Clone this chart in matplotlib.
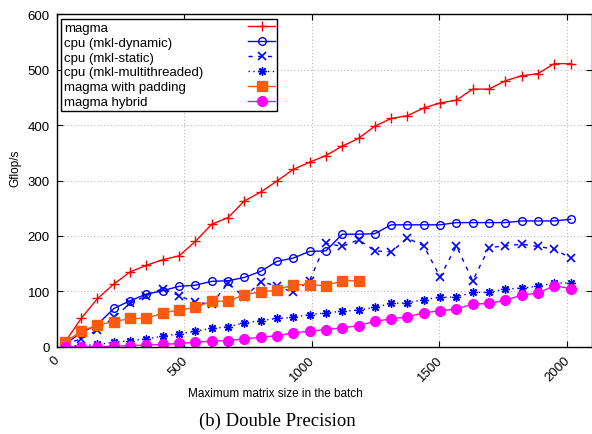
import numpy as np
import matplotlib
matplotlib.use("Agg")
import matplotlib.pyplot as plt
from matplotlib.transforms import ScaledTranslation

plt.rcParams['font.family'] = ['Liberation Sans', 'DejaVu Sans']

# matrix sizes (odd multiples of 32)
sizes = [32 * (2 * k + 1) for k in range(32)]

magma = [8, 51, 87, 113, 135, 147, 157, 164, 190, 221, 233, 263, 279, 299, 320, 333,
         345, 362, 376, 398, 412, 417, 431, 440, 445, 465, 465, 480, 489, 493, 511, 511]
mkl_dynamic = [5, 25, 40, 69, 83, 95, 101, 109, 111, 118, 119, 125, 136, 154, 160, 172,
               173, 203, 203, 204, 220, 220, 220, 220, 224, 224, 224, 224, 227, 227, 227, 230]
mkl_static = [5, 14, 30, 53, 78, 92, 105, 92, 80, 77, 115, 89, 117, 110, 98, 119,
              187, 181, 193, 173, 171, 196, 182, 126, 182, 119, 179, 182, 185, 181, 176, 160]
mkl_multi = [2, 2, 4, 8, 11, 14, 19, 23, 28, 33, 36, 43, 47, 51, 53, 58,
             61, 64, 66, 71, 78, 79, 85, 89, 90, 98, 98, 104, 106, 109, 115, 115]
magma_pad = [8, 28, 39, 45, 51, 51, 61, 66, 71, 82, 82, 94, 99, 102, 112, 112, 110, 119, 119]
magma_hybrid = [0, 0, 0, 1, 2, 3, 4, 6, 8, 10, 11, 14, 17, 20, 25, 28,
                31, 34, 38, 46, 50, 54, 61, 65, 68, 77, 78, 84, 93, 97, 110, 105]

fig = plt.figure(figsize=(5.92, 4.35), dpi=100)
ax = fig.add_axes([0.0958, 0.2007, 0.9042, 0.7641])

ax.plot(sizes, magma, color='#ff0000', lw=1.0, marker='+', ms=7, mew=1.0,
        label='magma')
ax.plot(sizes, mkl_dynamic, color='#0000ff', lw=1.0, marker='o', ms=5.5, mfc='none',
        mew=1.0, label='cpu (mkl-dynamic)')
ax.plot(sizes, mkl_static, color='#0000ff', lw=1.0, ls=(0, (3, 4)), marker='x', ms=5.5,
        mew=1.2, label='cpu (mkl-static)')
ax.plot(sizes, mkl_multi, color='#0000ff', lw=1.0, ls=(0, (1, 2.5)), marker=(8, 2, 0),
        ms=6, mew=1.0, label='cpu (mkl-multithreaded)')
ax.plot(sizes[:len(magma_pad)], magma_pad, color='#ff5a10', lw=1.0, marker='s', ms=7,
        label='magma with padding')
ax.plot(sizes, magma_hybrid, color='#ff00ff', lw=1.0, marker='o', ms=7,
        label='magma hybrid')

ax.set_xlim(0, 2100)
ax.set_ylim(0, 600)
ax.set_xticks([0, 500, 1000, 1500, 2000])
ax.set_yticks(range(0, 601, 100))
ax.grid(True, ls=(0, (1, 2)), color='#b8b8b8', lw=0.8)
ax.set_axisbelow(True)
ax.tick_params(direction='in', top=True, right=True, length=4, width=0.8,
               labelsize=9.5, pad=5)
shift = ScaledTranslation(4 / 72, 0, fig.dpi_scale_trans)
for lab in ax.get_xticklabels():
    lab.set_rotation(45)
    lab.set_ha('right')
    lab.set_va('top')
    lab.set_transform(lab.get_transform() + shift)
for sp in ax.spines.values():
    sp.set_linewidth(1.0)

leg = ax.legend(loc='upper left', markerfirst=False, fontsize=9.5, frameon=True,
                fancybox=False, framealpha=1, edgecolor='black', handlelength=2.0,
                labelspacing=0.2, borderpad=0.2, borderaxespad=0.35,
                handletextpad=1.0)
leg.get_frame().set_linewidth(1.0)

# left-align legend texts with handles in a right column
fig.canvas.draw()
r = fig.canvas.get_renderer()
texts = leg.get_texts()
widths = [t.get_window_extent(r).width * 72 / fig.dpi for t in texts]
wmax = max(widths)
rows = leg._legend_handle_box.get_children()[0].get_children()
for row, w in zip(rows, widths):
    row.sep = row.sep + (wmax - w) + 23

fig.text(0.026, 0.612, 'Gflop/s', rotation=90, ha='center', va='center', fontsize=8.5)
fig.text(0.465, 0.094, 'Maximum matrix size in the batch', ha='center', va='center',
         fontsize=8.5)
fig.text(0.468, 0.032, '(b) Double Precision', ha='center', va='center', fontsize=13.5,
         family=['Liberation Serif', 'DejaVu Serif'])

fig.savefig('out.png', dpi=100)
